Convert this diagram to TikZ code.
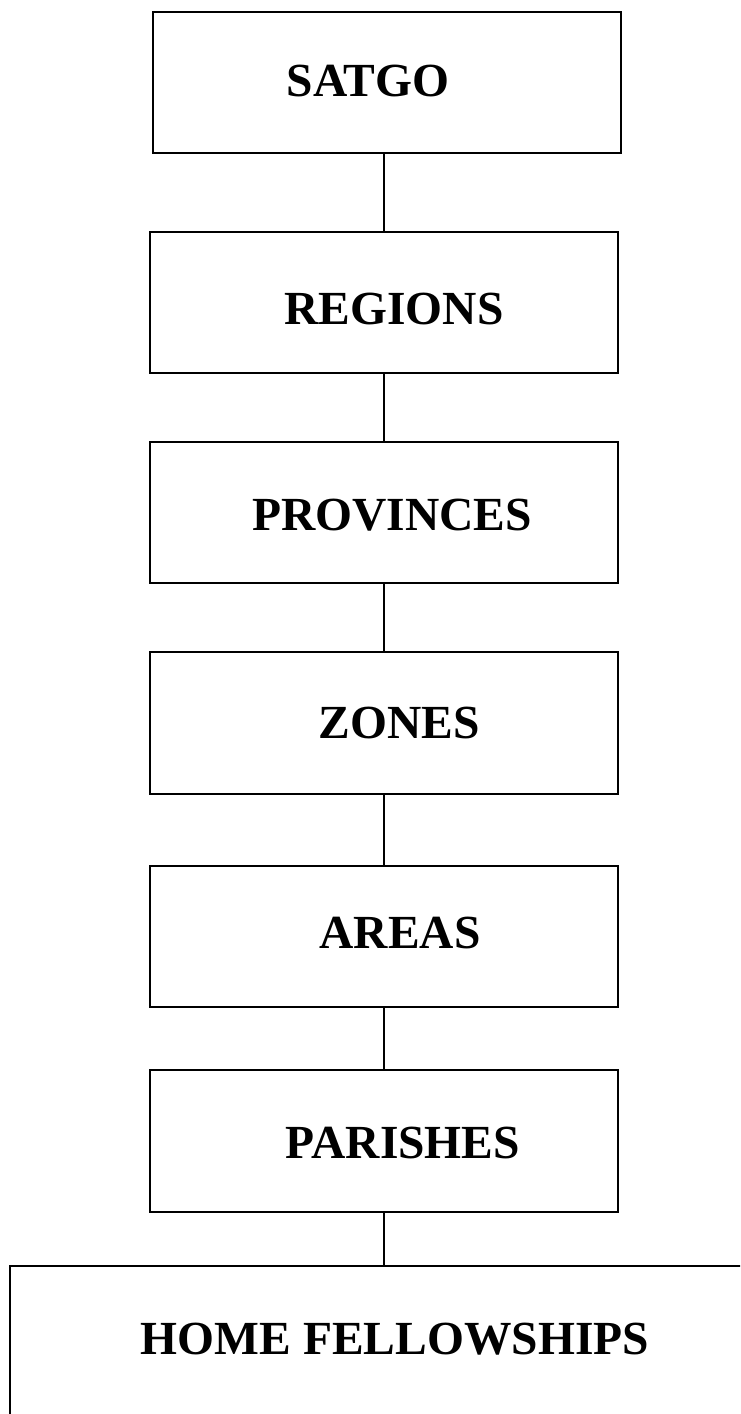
\documentclass[tikz,border=0pt]{standalone}
\usepackage{fontspec}
\setmainfont{Liberation Serif}
\begin{document}
\begin{tikzpicture}[x=1pt,y=-1pt,
  levelbox/.style={draw=black,line width=2pt,rectangle,inner sep=0pt,minimum width=468pt,minimum height=141pt},
  leveltext/.style={anchor=base,inner sep=0pt,font=\bfseries\fontsize{47.5}{57}\selectfont},
  link/.style={draw=black,line width=2pt}]
\useasboundingbox (0,0) rectangle (740,1414);
\fill[white] (0,0) rectangle (740,1414);
\begin{scope}
\clip (0,0) rectangle (740,1414);
\node[levelbox] (satgo) at (386.5,82.5) {};
\node[levelbox] (regions) at (384,302.5) {};
\node[levelbox] (provinces) at (384,512.5) {};
\node[levelbox,minimum height=142pt] (zones) at (384,723) {};
\node[levelbox] (areas) at (384,936.5) {};
\node[levelbox,minimum height=142pt] (parishes) at (384,1141) {};
\node[levelbox,minimum width=760pt,minimum height=174pt] (home) at (390,1353) {};

\node[leveltext] (tsatgo) at (368,96) {SATGO};
\node[leveltext] (tregions) at (394,324) {REGIONS};
\node[leveltext] (tprovinces) at (392,530) {PROVINCES};
\node[leveltext] (tzones) at (399,738) {ZONES};
\node[leveltext] (tareas) at (400,948) {AREAS};
\node[leveltext] (tparishes) at (403,1158) {PARISHES};
\node[leveltext] (thome) at (395,1354) {HOME FELLOWSHIPS};

\draw[link] (regions.north |- satgo.south) -- (regions.north);
\draw[link] (regions.south) -- (provinces.north);
\draw[link] (provinces.south) -- (zones.north);
\draw[link] (zones.south) -- (areas.north);
\draw[link] (areas.south) -- (parishes.north);
\draw[link] (parishes.south) -- (parishes.south |- home.north);
\end{scope}
\end{tikzpicture}
\end{document}
